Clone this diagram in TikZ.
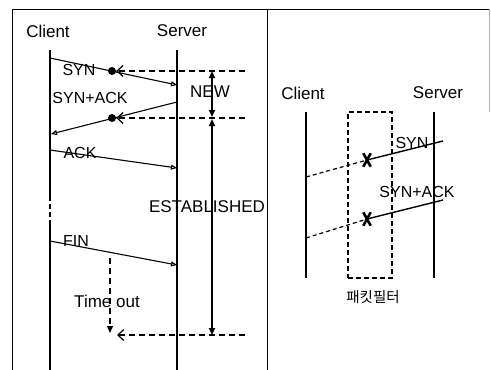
\documentclass[tikz,border=0pt]{standalone}
\usepackage{fontspec}
\setmainfont{Liberation Sans}
\newfontfamily\krfont{Noto Sans CJK KR}
\usetikzlibrary{arrows.meta}

\begin{document}
\begin{tikzpicture}[x=1pt,y=-1pt,
  lbl/.style={inner sep=0pt, font=\fontsize{17}{19}\selectfont},
  small/.style={inner sep=0pt, font=\fontsize{16}{18}\selectfont},
  frameline/.style={line width=1pt},
  lifeline/.style={line width=1.4pt},
  msg/.style={line width=1.1pt, -{Triangle[open,length=6pt,width=5pt]}},
  plainmsg/.style={line width=1.4pt},
  dashline/.style={line width=1.2pt, dash pattern=on 6pt off 4pt},
  backarrow/.style={dashline, -{Straight Barb[length=6pt,width=11pt]}},
  span/.style={line width=2.2pt, {Triangle[length=7pt,width=6pt]}-{Triangle[length=7pt,width=6pt]}},
  dotmark/.style={circle, fill=black, inner sep=0pt, minimum size=8pt},
  xmark/.style={inner sep=0pt, minimum width=7pt, minimum height=13pt},
  filterbox/.style={line width=1.2pt, dash pattern=on 5pt off 3pt}
]
\useasboundingbox (0,0) rectangle (491,370);

% ---------- frame ----------
\coordinate (fTL) at (12,9);
\coordinate (fTR) at (490,9);
\coordinate (fBL) at (12,370);
\coordinate (dTop) at (267,9);
\coordinate (dBot) at (267,370);
\coordinate (rTop) at (489,9);
\coordinate (rBot) at (489,112);
\draw[frameline] (fBL) -- (fTL) -- (fTR);
\draw[frameline] (dTop) -- (dBot);
\draw[gray!60, line width=0.8pt] (rTop) -- (rBot);

% ---------- left panel: connection tracking ----------
\node[lbl] (lcl) at (48,31) {Client};
\node[lbl] (lsv) at (182,31) {Server};

\coordinate (c0) at (50,50);
\coordinate (cg1) at (50,196);
\coordinate (cg2) at (50,222);
\coordinate (c9) at (50,370);
\coordinate (s0) at (177,50);
\coordinate (s9) at (177,370);
\draw[lifeline] (c0) -- (cg1);
\draw[lifeline, dash pattern=on 5pt off 3pt] (cg1) -- (cg2);
\draw[lifeline] (cg2) -- (c9);
\draw[lifeline] (s0) -- (s9);

% SYN
\coordinate (synA) at (50,58);
\coordinate (synB) at (177,85);
\draw[msg] (synA) -- (synB);
\node[small] (synL) at (79,70) {SYN};
\node[dotmark] (dot1) at (112,71) {};

% SYN+ACK
\coordinate (saA) at (177,102);
\coordinate (saB) at (51,134);
\draw[msg] (saA) -- (saB);
\node[small] (saL) at (90,98) {SYN+ACK};
\node[dotmark] (dot2) at (112,118) {};

% state boundaries
\coordinate (n1) at (245,71);
\coordinate (n2) at (245,118);
\coordinate (n3) at (245,335);
\coordinate (toEnd) at (117,335);
\draw[backarrow] (n1) -- (dot1);
\draw[backarrow] (n2) -- (dot2);
\draw[backarrow] (n3) -- (toEnd);

% ACK
\coordinate (ackA) at (50,150);
\coordinate (ackB) at (177,168);
\draw[msg] (ackA) -- (ackB);
\node[small] (ackL) at (80,153) {ACK};

% FIN
\coordinate (finA) at (50,241);
\coordinate (finB) at (177,265);
\draw[msg] (finA) -- (finB);
\node[small] (finL) at (76,241) {FIN};

% time out
\coordinate (toA) at (110,258);
\coordinate (toB) at (110,333);
\node[lbl] (toL) at (107,301) {Time out};
\draw[dashline, -{Triangle[length=7pt,width=6pt]}] (toA) -- (toB);

% state spans
\coordinate (newA) at (212,71);
\coordinate (newB) at (212,117);
\coordinate (estA) at (212,119);
\coordinate (estB) at (212,335);
\node[lbl] (newL) at (210,92) {NEW};
\node[lbl] (estL) at (207,207) {ESTABLISHED};
\draw[span] (newA) -- (newB);
\draw[span] (estA) -- (estB);

% ---------- right panel: packet filter ----------
\node[lbl] (rcl) at (303,93) {Client};
\node[lbl] (rsv) at (438,93) {Server};
\coordinate (rc0) at (306,112);
\coordinate (rc9) at (306,278);
\coordinate (rs0) at (434,112);
\coordinate (rs9) at (434,278);
\draw[lifeline] (rc0) -- (rc9);
\draw[lifeline] (rs0) -- (rs9);

\node[filterbox, draw, minimum width=44pt, minimum height=166pt, inner sep=0pt] (pf) at (370,195) {};
\node[font=\krfont\fontsize{14.5}{16}\selectfont, inner sep=0pt] (pfL) at (373,297) {패킷필터};

% blocked SYN
\node[xmark] (x1) at (367,160) {};
\coordinate (r1a) at (306,177);
\coordinate (r1b) at (443,141);
\draw[plainmsg] (x1.center) -- (r1b);
\draw[dashline, dash pattern=on 4pt off 3pt] (r1a) -- (x1.center);
\draw[line width=2.6pt] (x1.north west) -- (x1.south east) (x1.north east) -- (x1.south west);
\node[small] (r1L) at (412,143) {SYN};

% blocked SYN+ACK
\node[xmark] (x2) at (367,219) {};
\coordinate (r2a) at (306,238);
\coordinate (r2b) at (443,200);
\draw[plainmsg] (x2.center) -- (r2b);
\draw[dashline, dash pattern=on 4pt off 3pt] (r2a) -- (x2.center);
\draw[line width=2.6pt] (x2.north west) -- (x2.south east) (x2.north east) -- (x2.south west);
\node[small] (r2L) at (417,192) {SYN+ACK};

\end{tikzpicture}
\end{document}
